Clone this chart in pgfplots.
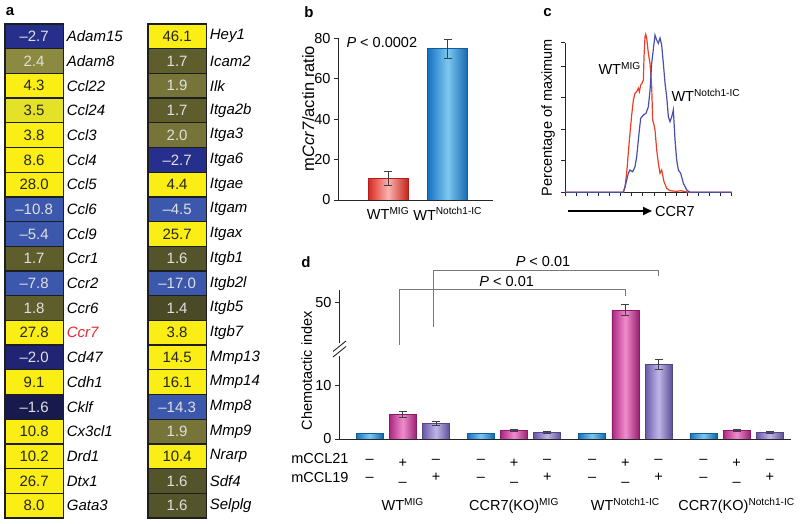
\documentclass[border=0pt]{standalone}
\usepackage{pgfplots}
\pgfplotsset{compat=1.18}
\usepackage{fontspec}
\setmainfont{Liberation Sans}
\usetikzlibrary{arrows.meta}
\newcommand\fs{\fontsize{14.5pt}{17pt}\selectfont}
% heat map colours
\definecolor{cY}{RGB}{250,238,20}
\definecolor{cYb}{RGB}{228,226,40}
\definecolor{cO0}{RGB}{74,74,38}
\definecolor{cO1}{RGB}{84,84,42}
\definecolor{cO2}{RGB}{94,94,45}
\definecolor{cO3}{RGB}{118,116,56}
\definecolor{cO4}{RGB}{140,138,64}
\definecolor{cB1}{RGB}{24,26,78}
\definecolor{cB2}{RGB}{32,36,115}
\definecolor{cB3}{RGB}{38,48,140}
\definecolor{cB4}{RGB}{60,88,172}
\definecolor{cellb}{RGB}{30,30,30}
\definecolor{ccr}{RGB}{230,40,50}
% bars
\definecolor{rEdge}{RGB}{218,40,30}
\definecolor{rMid}{RGB}{250,180,175}
\definecolor{bEdge}{RGB}{22,115,195}
\definecolor{bMid}{RGB}{125,200,240}
\definecolor{mEdge}{RGB}{172,38,128}
\definecolor{mMid}{RGB}{240,140,205}
\definecolor{pEdge}{RGB}{105,88,168}
\definecolor{pMid}{RGB}{192,182,232}
\definecolor{cRed}{RGB}{235,62,40}
\definecolor{cBlue}{RGB}{72,80,170}
\definecolor{brk}{RGB}{120,120,120}
\pgfdeclareplotmark{cell}{\pgfpathrectangle{\pgfqpoint{-29.15pt}{-12.35pt}}{\pgfqpoint{58.3pt}{24.7pt}}\pgfusepathqfillstroke}
\newcommand\absnum{\pgfkeys{/pgf/fpu=true}\pgfmathparse{abs(\pgfplotspointmeta)}\pgfmathprintnumber[fixed,fixed zerofill,precision=1,assume math mode=true]{\pgfmathresult}}
\pgfplotsset{
  /pgf/number format/assume math mode=true,
  heat/.style={scale only axis, width=58.3pt, height=494pt, xmin=-0.5, xmax=0.5,
    ymin=-0.5, ymax=19.5, y dir=reverse, xtick=\empty, ytick={0,...,19},
    yticklabel pos=right, axis line style={draw=none}, major tick length=0pt,
    yticklabel style={font=\fontsize{15pt}{17pt}\selectfont\itshape}, clip=false},
  cellp/.style={only marks, mark=cell, mark options={fill=#1, draw=cellb, line width=1.3pt},
    point meta=explicit, nodes near coords align=center,
    nodes near coords={\pgfmathprintnumber[fixed,fixed zerofill,precision=1,assume math mode=true]{\pgfplotspointmeta}}},
  cpos/.style={cellp=#1, every node near coord/.append style={text=black!85, font=\fontsize{15pt}{17pt}\selectfont}},
  cposw/.style={cellp=#1, every node near coord/.append style={text=white!88!black, font=\fontsize{15pt}{17pt}\selectfont}},
  cneg/.style={cellp=#1, nodes near coords={–\absnum}, every node near coord/.append style={text=white!88!black, font=\fontsize{15pt}{17pt}\selectfont}},
  gbar/.style n args={3}{ybar, bar width=#1, bar shift=0pt, draw=#2!80!black, line width=0.6pt,
    left color=#2, right color=#2!90!black, middle color=#3,
    error bars/.cd, y dir=both, y explicit,
    error bar style={draw=black!75, line width=0.8pt},
    error mark options={rotate=90, mark size=4pt, draw=black!75, line width=0.8pt}},
  lineaxis/.style={scale only axis, axis lines=left, axis line style={-, line width=0.9pt, black!85},
    tick align=outside, major tick length=4pt, tick style={black!85, line width=0.8pt}},
}
\begin{document}
\begin{tikzpicture}[x=1pt,y=1pt,font=\fs]
\useasboundingbox (0,0) rectangle (800,524);
% ---------------- panel a ----------------
\begin{axis}[heat, at={(5pt,6pt)}, anchor=south west,
  yticklabels={Adam15,Adam8,Ccl22,Ccl24,Ccl3,Ccl4,Ccl5,Ccl6,Ccl9,Ccr1,Ccr2,Ccr6,\textcolor{ccr}{Ccr7},Cd47,Cdh1,Cklf,Cx3cl1,Drd1,Dtx1,Gata3}]
\addplot[cpos=cY] coordinates {(0,2) [4.3] (0,4) [3.8] (0,5) [8.6] (0,6) [28.0] (0,12) [27.8] (0,14) [9.1] (0,16) [10.8] (0,17) [10.2] (0,18) [26.7] (0,19) [8.0]};
\addplot[cpos=cYb] coordinates {(0,3) [3.5]};
\addplot[cposw=cO4] coordinates {(0,1) [2.4]};
\addplot[cposw=cO2] coordinates {(0,9) [1.7] (0,11) [1.8]};
\addplot[cneg=cB4] coordinates {(0,7) [-10.8] (0,8) [-5.4] (0,10) [-7.8]};
\addplot[cneg=cB3] coordinates {(0,0) [-2.7]};
\addplot[cneg=cB2] coordinates {(0,13) [-2.0]};
\addplot[cneg=cB1] coordinates {(0,15) [-1.6]};
\end{axis}
\begin{axis}[heat, at={(148pt,6pt)}, anchor=south west,
  yticklabels={Hey1,Icam2,Ilk,Itga2b,Itga3,Itga6,Itgae,Itgam,Itgax,Itgb1,Itgb2l,Itgb5,Itgb7,Mmp13,Mmp14,Mmp8,Mmp9,Nrarp,Sdf4,Selplg}]
\addplot[cpos=cY] coordinates {(0,0) [46.1] (0,6) [4.4] (0,8) [25.7] (0,12) [3.8] (0,13) [14.5] (0,14) [16.1] (0,17) [10.4]};
\addplot[cposw=cO2] coordinates {(0,1) [1.7] (0,3) [1.7]};
\addplot[cposw=cO3] coordinates {(0,2) [1.9] (0,4) [2.0] (0,16) [1.9]};
\addplot[cposw=cO1] coordinates {(0,9) [1.6] (0,18) [1.6] (0,19) [1.6]};
\addplot[cposw=cO0] coordinates {(0,11) [1.4]};
\addplot[cneg=cB3] coordinates {(0,5) [-2.7]};
\addplot[cneg=cB4] coordinates {(0,7) [-4.5] (0,10) [-17.0] (0,15) [-14.3]};
\end{axis}
\node[font=\fontsize{15pt}{17pt}\selectfont\bfseries] at (10,512) {a};
% ---------------- panel b ----------------
\begin{axis}[lineaxis, at={(338pt,324pt)}, anchor=south west, width=155pt, height=161.7pt,
  xmin=0.16, xmax=2.76, ymin=0, ymax=80, ytick={0,20,40,60,80},
  xtick={1,2}, xticklabels={WT\textsuperscript{MIG},WT\textsuperscript{Notch1-IC}},
  xtick style={draw=none},
  ylabel={m\textit{Ccr7}/actin ratio},
  ylabel style={at={(axis description cs:-0.192,0.566)}, anchor=center, font=\fontsize{16.5pt}{18pt}\selectfont}]
\addplot[gbar={40pt}{rEdge}{rMid}] coordinates {(1,10.5) +- (0,3.5)};
\addplot[gbar={40pt}{bEdge}{bMid}] coordinates {(2,75) +- (0,4.7)};
\end{axis}
\node[font=\fontsize{15pt}{17pt}\selectfont\bfseries] at (309,512) {b};
\node[anchor=west] at (343,481) {\textit{P} < 0.0002};
% ---------------- panel c ----------------
\begin{axis}[lineaxis, at={(565pt,331.7pt)}, anchor=south west, width=166.7pt, height=149.6pt,
  xmin=0, xmax=1500, ymin=0, ymax=94.7, clip=false,
  xtick={0,100,...,1500}, ytick={0,20,40,60,80,94.7},
  xticklabels={}, yticklabels={},
  ylabel={Percentage of maximum},
  ylabel style={at={(axis description cs:-0.102,0.5)}, anchor=center}]
\addplot[cRed, line width=1.2pt] coordinates {
(0,0) (525,0) (540,3.5) (555,12.2) (579,33.1) (600,48.9) (615,58.4) (630,62.7) (645,63.7)
(660,65.8) (669,63.7) (681,67.9) (693,69.0) (705,71.1) (711,85.8) (720,98.5) (726,100)
(735,97.5) (750,88.0) (765,81.6) (780,66.8) (789,45.8) (801,42.6) (810,39.4) (825,26.8)
(840,18.4) (855,12.0) (870,14.1) (879,10.9) (891,6.7) (915,2.5) (945,1.0) (1005,0.6)
(1040,1.0) (1080,0.5) (1110,0) (1500,0)};
\addplot[cBlue, line width=1.2pt] coordinates {
(0,0) (525,0) (540,3.5) (570,12.0) (585,14.1) (609,13.0) (630,16.2) (645,22.5) (669,39.4)
(681,46.8) (705,48.9) (729,50.0) (750,54.2) (765,64.7) (780,81.6) (801,94.3) (810,99.5)
(825,96.4) (840,94.3) (855,97.7) (870,93.2) (885,81.6) (900,69.0) (915,60.5) (930,47.8)
(945,44.7) (960,47.8) (975,52.1) (990,33.1) (1005,20.4) (1020,14.1) (1041,12.0) (1065,5.7)
(1095,1.5) (1125,0) (1500,0)};
\end{axis}
\node[font=\fontsize{15pt}{17pt}\selectfont\bfseries] at (547.5,511.5) {c};
\node[anchor=base west] at (595,449) {WT\textsuperscript{MIG}};
\node[anchor=base west] at (668,422.3) {WT\textsuperscript{Notch1-IC}};
\draw[line width=1.8pt, -{Triangle[length=9pt,width=8pt]}] (568,313) -- (652,313);
\node[anchor=base west, inner sep=0pt] at (655,307.8) {CCR7};
% ---------------- panel d ----------------
\begin{axis}[lineaxis, at={(339pt,85pt)}, anchor=south west, width=451.7pt, height=149.2pt,
  xmin=-0.92, xmax=12.68, ymin=0, ymax=52.4,
  y coord trafo/.code={\pgfmathparse{#1-24.4*(#1>30)}},
  y coord inv trafo/.code={\pgfmathparse{#1+24.4*(#1>17)}},
  ytick={0,10,50}, yticklabels={0,10,50},
  xtick={0,1,2,3.35,4.35,5.35,6.7,7.7,8.7,10.05,11.05,12.05},
  xticklabels={{–\\[1.6pt]–},{+\\[1.6pt]–},{–\\[1.6pt]+},{–\\[1.6pt]–},{+\\[1.6pt]–},{–\\[1.6pt]+},{–\\[1.6pt]–},{+\\[1.6pt]–},{–\\[1.6pt]+},{–\\[1.6pt]–},{+\\[1.6pt]–},{–\\[1.6pt]+}},
  xtick style={draw=none},
  xticklabel style={align=center, font=\fontsize{14.5pt}{17pt}\selectfont, yshift=-12.5pt},
  extra x ticks={1,4.35,7.7,11.05},
  extra x tick labels={WT\textsuperscript{MIG},CCR7(KO)\textsuperscript{MIG},WT\textsuperscript{Notch1-IC},CCR7(KO)\textsuperscript{Notch1-IC}},
  extra x tick style={xticklabel style={yshift=-39pt}},
  ylabel={Chemotactic index},
  ylabel style={at={(axis description cs:-0.0715,0.457)}, anchor=center}]
\addplot[gbar={27pt}{bEdge}{bMid}] coordinates {(0,1)};
\addplot[gbar={27pt}{bEdge}{bMid}] coordinates {(3.35,1)};
\addplot[gbar={27pt}{bEdge}{bMid}] coordinates {(6.7,1)};
\addplot[gbar={27pt}{bEdge}{bMid}] coordinates {(10.05,1)};
\addplot[gbar={27pt}{mEdge}{mMid}] coordinates {(1,4.6) +- (0,0.5)};
\addplot[gbar={27pt}{mEdge}{mMid}] coordinates {(4.35,1.6) +- (0,0.2)};
\addplot[gbar={27pt}{mEdge}{mMid}] coordinates {(7.7,48.6) +- (0,1.0)};
\addplot[gbar={27pt}{mEdge}{mMid}] coordinates {(11.05,1.6) +- (0,0.2)};
\addplot[gbar={27pt}{pEdge}{pMid}] coordinates {(2,2.9) +- (0,0.35)};
\addplot[gbar={27pt}{pEdge}{pMid}] coordinates {(5.35,1.2) +- (0,0.15)};
\addplot[gbar={27pt}{pEdge}{pMid}] coordinates {(8.7,14.0) +- (0,0.95)};
\addplot[gbar={27pt}{pEdge}{pMid}] coordinates {(12.05,1.2) +- (0,0.15)};
\end{axis}
\node[font=\fontsize{15pt}{17pt}\selectfont\bfseries] at (306,262) {d};
\node[anchor=east] at (352,65.3) {mCCL21};
\node[anchor=east] at (352,46.7) {mCCL19};
% axis break
\fill[white] (336,168) rectangle (342,181);
\draw[black!85, line width=0.9pt] (333,167) -- (346,177.5);
\draw[black!85, line width=0.9pt] (333,172.5) -- (346,183);
% significance brackets
\draw[brk, line width=0.8pt] (399,179) -- (399,234.7) -- (625.7,234.7) -- (625.7,228.3);
\draw[brk, line width=0.8pt] (433,197.3) -- (433,254) -- (658.3,254) -- (658.3,248);
\node at (506.7,242.3) {\textit{P} < 0.01};
\node at (543,262.3) {\textit{P} < 0.01};
\end{tikzpicture}
\end{document}
